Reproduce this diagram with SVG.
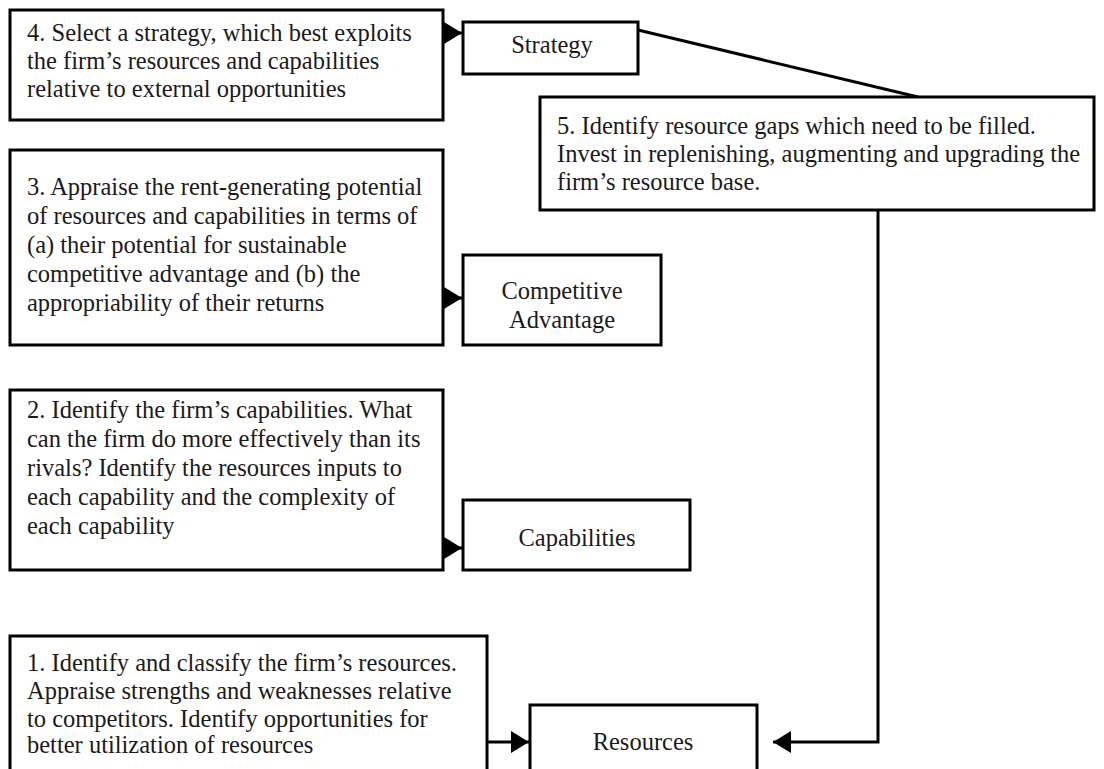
<svg xmlns="http://www.w3.org/2000/svg" width="1104" height="769" viewBox="0 0 1104 769">
<defs>
<style>
.box{fill:#fff;stroke:#000;stroke-width:3}
.t{font-family:"Liberation Serif","Times New Roman",serif;font-size:24.5px;fill:#1a1a1a}
.c{text-anchor:middle}
.ln{fill:none;stroke:#000;stroke-width:3}
</style>
<marker id="ah" markerUnits="userSpaceOnUse" markerWidth="20" markerHeight="22" refX="18" refY="11" orient="auto">
<path d="M0,0 L18,11 L0,22 z" fill="#000"/>
</marker>
</defs>
<rect width="1104" height="769" fill="#fff"/>
<g id="connectors">
<path class="ln" d="M445,33 L462,33" marker-end="url(#ah)"/>
<path class="ln" d="M638,30 L918,97"/>
<path class="ln" d="M445,298 L462,298" marker-end="url(#ah)"/>
<path class="ln" d="M445,548 L462,548" marker-end="url(#ah)"/>
<path class="ln" d="M487,742 L529,742" marker-end="url(#ah)"/>
<path class="ln" d="M878,210 L878,742 L773,742" marker-end="url(#ah)"/>
</g>
<g id="step4">
<rect class="box" x="10" y="10" width="433" height="110"/>
<text class="t" x="27" y="41">4. Select a strategy, which best exploits</text>
<text class="t" x="27" y="69">the firm’s resources and capabilities</text>
<text class="t" x="27" y="97">relative to external opportunities</text>
</g>
<g id="strategy">
<rect class="box" x="463" y="22" width="175" height="52"/>
<text class="t c" x="552" y="53">Strategy</text>
</g>
<g id="step5">
<rect class="box" x="540" y="97" width="554" height="113"/>
<text class="t" x="557" y="134">5. Identify resource gaps which need to be filled.</text>
<text class="t" x="557" y="162">Invest in replenishing, augmenting and upgrading the</text>
<text class="t" x="557" y="190">firm’s resource base.</text>
</g>
<g id="step3">
<rect class="box" x="10" y="150" width="433" height="195"/>
<text class="t" x="27" y="195">3. Appraise the rent-generating potential</text>
<text class="t" x="27" y="224">of resources and capabilities in terms of</text>
<text class="t" x="27" y="253">(a) their potential for sustainable</text>
<text class="t" x="27" y="282">competitive advantage and (b) the</text>
<text class="t" x="27" y="311">appropriability of their returns</text>
</g>
<g id="advantage">
<rect class="box" x="463" y="255" width="198" height="90"/>
<text class="t c" x="562" y="299">Competitive</text>
<text class="t c" x="562" y="328">Advantage</text>
</g>
<g id="step2">
<rect class="box" x="10" y="390" width="433" height="180"/>
<text class="t" x="27" y="418">2. Identify the firm’s capabilities. What</text>
<text class="t" x="27" y="447">can the firm do more effectively than its</text>
<text class="t" x="27" y="476">rivals? Identify the resources inputs to</text>
<text class="t" x="27" y="505">each capability and the complexity of</text>
<text class="t" x="27" y="534">each capability</text>
</g>
<g id="capabilities">
<rect class="box" x="463" y="500" width="227" height="70"/>
<text class="t c" x="577" y="546">Capabilities</text>
</g>
<g id="step1">
<rect class="box" x="10" y="636" width="477" height="140"/>
<text class="t" x="27" y="671">1. Identify and classify the firm’s resources.</text>
<text class="t" x="27" y="699">Appraise strengths and weaknesses relative</text>
<text class="t" x="27" y="727">to competitors. Identify opportunities for</text>
<text class="t" x="27" y="753">better utilization of resources</text>
</g>
<g id="resources">
<rect class="box" x="530" y="705" width="227" height="75"/>
<text class="t c" x="643" y="750">Resources</text>
</g>
</svg>
